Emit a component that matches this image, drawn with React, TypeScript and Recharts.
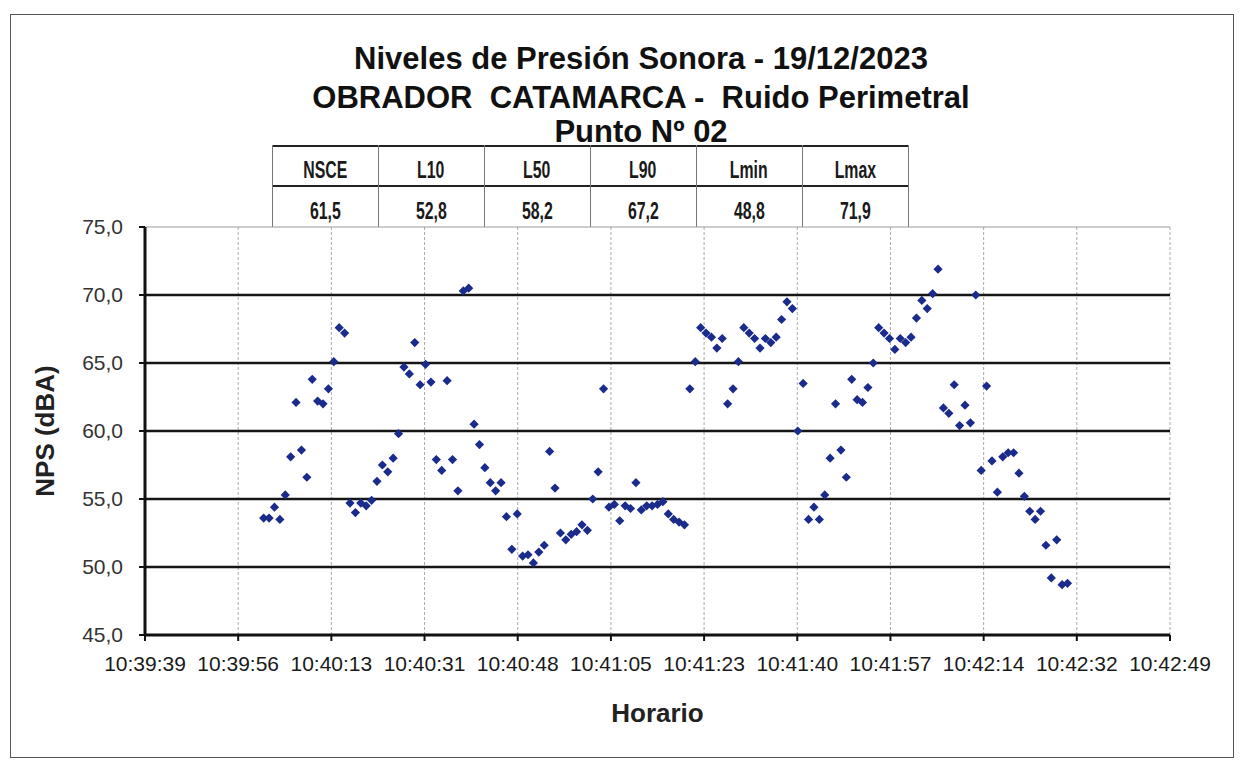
import { ScatterChart, Scatter, XAxis, YAxis, CartesianGrid, ReferenceLine } from "recharts";

// horario del eje (etiquetas de Excel) y muestras de 1 s
const TIME_LABELS = [
  "10:39:39", "10:39:56", "10:40:13", "10:40:31", "10:40:48", "10:41:05",
  "10:41:23", "10:41:40", "10:41:57", "10:42:14", "10:42:32", "10:42:49",
];
const AXIS_SPAN_SECONDS = 190; // 10:39:39 -> 10:42:49
const FIRST_SAMPLE_SECOND = 22; // 10:40:01

const NPS_VALUES = [
  53.6, 53.6, 54.4, 53.5, 55.3, 58.1, 62.1, 58.6, 56.6, 63.8,
  62.2, 62.0, 63.1, 65.1, 67.6, 67.2, 54.7, 54.0, 54.7, 54.5,
  54.9, 56.3, 57.5, 57.0, 58.0, 59.8, 64.7, 64.2, 66.5, 63.4,
  64.9, 63.6, 57.9, 57.1, 63.7, 57.9, 55.6, 70.3, 70.5, 60.5,
  59.0, 57.3, 56.2, 55.6, 56.2, 53.7, 51.3, 53.9, 50.8, 50.9,
  50.3, 51.1, 51.6, 58.5, 55.8, 52.5, 52.0, 52.4, 52.6, 53.1,
  52.7, 55.0, 57.0, 63.1, 54.4, 54.6, 53.4, 54.5, 54.3, 56.2,
  54.2, 54.5, 54.5, 54.6, 54.8, 53.9, 53.5, 53.3, 53.1, 63.1,
  65.1, 67.6, 67.2, 66.9, 66.1, 66.8, 62.0, 63.1, 65.1, 67.6,
  67.2, 66.8, 66.1, 66.8, 66.5, 66.9, 68.2, 69.5, 69.0, 60.0,
  63.5, 53.5, 54.4, 53.5, 55.3, 58.0, 62.0, 58.6, 56.6, 63.8,
  62.3, 62.1, 63.2, 65.0, 67.6, 67.2, 66.8, 66.0, 66.8, 66.5,
  66.9, 68.3, 69.6, 69.0, 70.1, 71.9, 61.7, 61.3, 63.4, 60.4,
  61.9, 60.6, 70.0, 57.1, 63.3, 57.8, 55.5, 58.1, 58.4, 58.4,
  56.9, 55.2, 54.1, 53.5, 54.1, 51.6, 49.2, 52.0, 48.7, 48.8,
];

const Y_TICKS = [45, 50, 55, 60, 65, 70, 75];
const GRID_LEVELS = [50, 55, 60, 65, 70];

const STAT_NAMES = ["NSCE", "L10", "L50", "L90", "Lmin", "Lmax"];
const STAT_VALUES = ["61,5", "52,8", "58,2", "67,2", "48,8", "71,9"];

const FONT = "'Liberation Sans', Arial, sans-serif";
const MARK = "#1b2b8c";

const data = NPS_VALUES.map((v, i) => ({ t: FIRST_SAMPLE_SECOND + i, nps: v }));
const xTicks = TIME_LABELS.map((_, i) => (i * AXIS_SPAN_SECONDS) / (TIME_LABELS.length - 1));

const Diamond = (props: any) => {
  const { cx, cy } = props;
  const r = 4.6;
  return <polygon points={`${cx},${cy - r} ${cx + r},${cy} ${cx},${cy + r} ${cx - r},${cy}`} fill={MARK} />;
};

const titleStyle = (top: number): React.CSSProperties => ({
  position: "absolute",
  left: 641,
  top,
  transform: "translateX(-50%)",
  whiteSpace: "pre",
  fontFamily: FONT,
  fontWeight: "bold",
  fontSize: 31,
  color: "#111",
  lineHeight: "36px",
});

const cellW = 106;

const cellText = (top: number): React.CSSProperties => ({
  position: "absolute",
  top,
  width: cellW,
  textAlign: "center",
  fontFamily: FONT,
  fontSize: 24,
  lineHeight: "28px",
  fontWeight: "bold",
  color: "#1a1a1a",
});

const StatsTable = () => (
  <div style={{ position: "absolute", left: 272, top: 145, width: cellW * 6, height: 82 }}>
    <div style={{ position: "absolute", left: 0, top: 0, width: cellW * 6, borderTop: "2px solid #222" }} />
    <div style={{ position: "absolute", left: 0, top: 40, width: cellW * 6, borderTop: "2px solid #222" }} />
    {STAT_NAMES.map((name, i) => (
      <div key={name}>
        <div
          style={{
            position: "absolute", left: i * cellW, top: 0, width: 0, height: 82,
            borderLeft: "1.5px solid #777",
          }}
        />
        <div style={{ ...cellText(11), left: i * cellW }}>
          <span style={{ display: "inline-block", transform: "scaleX(0.66)" }}>{name}</span>
        </div>
        <div style={{ ...cellText(52), left: i * cellW }}>
          <span style={{ display: "inline-block", transform: "scaleX(0.66)" }}>{STAT_VALUES[i]}</span>
        </div>
      </div>
    ))}
    <div style={{ position: "absolute", left: cellW * 6, top: 0, width: 0, height: 82, borderLeft: "1.5px solid #777" }} />
  </div>
);

export default function App() {
  return (
    <div style={{ position: "absolute", left: 0, top: 0, width: 1244, height: 762, background: "#fff" }}>
      <div
        style={{
          position: "absolute", left: 10, top: 14, width: 1222, height: 742,
          border: "1.5px solid #555",
        }}
      />
      <div style={titleStyle(41)}>Niveles de Presión Sonora - 19/12/2023</div>
      <div style={titleStyle(80)}>{"OBRADOR  CATAMARCA -  Ruido Perimetral"}</div>
      <div style={titleStyle(114)}>Punto Nº 02</div>
      <StatsTable />
      <div style={{ position: "absolute", left: 0, top: 0 }}>
        <ScatterChart
          width={1244}
          height={762}
          margin={{ top: 227, right: 74, left: 85, bottom: 87 }}
          style={{ fontFamily: FONT }}
        >
          <CartesianGrid horizontal={false} stroke="#aaa" strokeDasharray="3 2" />
          <ReferenceLine y={75} stroke="#999" strokeWidth={1} />
          {GRID_LEVELS.map((lv) => (
            <ReferenceLine key={lv} y={lv} stroke="#151515" strokeWidth={2.5} />
          ))}
          <XAxis
            type="number"
            dataKey="t"
            domain={[0, AXIS_SPAN_SECONDS]}
            ticks={xTicks}
            interval={0}
            tickFormatter={(_v: number, i: number) => TIME_LABELS[i]}
            height={40}
            tickSize={6}
            tickMargin={15}
            axisLine={{ stroke: "#111", strokeWidth: 3 }}
            tickLine={{ stroke: "#111", strokeWidth: 2 }}
            tick={{ fill: "#1a1a1a", fontSize: 21 }}
            label={{ value: "Horario", position: "insideBottom", offset: -47, fill: "#222", fontSize: 26, fontWeight: "bold" }}
          />
          <YAxis
            type="number"
            dataKey="nps"
            domain={[45, 75]}
            ticks={Y_TICKS}
            interval={0}
            tickFormatter={(v: number) => v.toFixed(1).replace(".", ",")}
            width={60}
            tickSize={6}
            tickMargin={16}
            axisLine={{ stroke: "#111", strokeWidth: 3 }}
            tickLine={{ stroke: "#111", strokeWidth: 2 }}
            tick={{ fill: "#333", fontSize: 21 }}
            label={{ value: "NPS (dBA)", angle: -90, position: "insideLeft", offset: -40, fill: "#222", fontSize: 26, fontWeight: "bold", style: { textAnchor: "middle" } }}
          />
          <Scatter data={data} shape={<Diamond />} isAnimationActive={false} />
        </ScatterChart>
      </div>
    </div>
  );
}
